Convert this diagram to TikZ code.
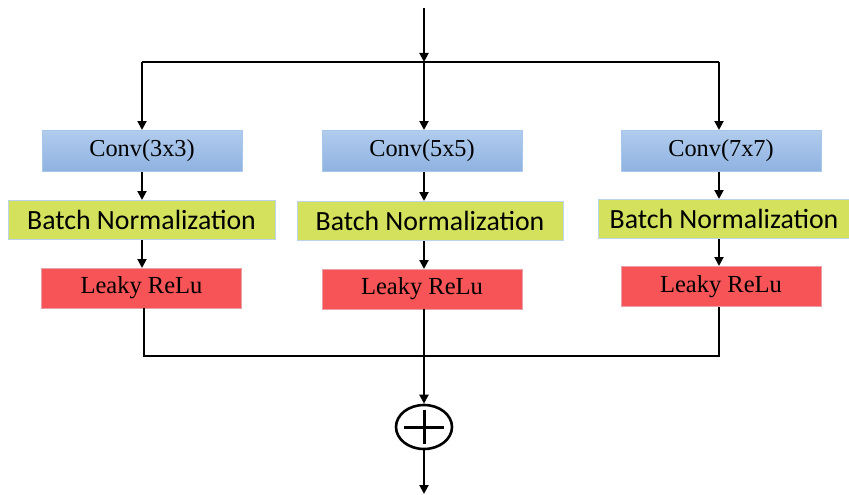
\documentclass[tikz,border=0pt]{standalone}
\usepackage{fontspec}
\setmainfont{Liberation Serif}
\newfontfamily\bnfont{Carlito}
\usetikzlibrary{arrows.meta,shapes.geometric}
\definecolor{convtop}{HTML}{B0CCEE}
\definecolor{convbot}{HTML}{8FB2E0}
\definecolor{convedge}{HTML}{A8C6EC}
\definecolor{bnfill}{HTML}{D3E15C}
\definecolor{bnedge}{HTML}{BCD3EC}
\definecolor{relufill}{HTML}{F65457}
\definecolor{reluedge}{HTML}{E8A0A8}
\tikzset{
  x=1pt, y=-1pt,
  convbox/.style={rectangle, top color=convtop, bottom color=convbot, draw=convedge,
    line width=1pt, minimum width=200pt, minimum height=41pt, inner sep=0pt,
    font=\fontsize{24.3}{26}\selectfont},
  bnbox/.style={rectangle, fill=bnfill, draw=bnedge, line width=1pt,
    minimum height=39pt, inner sep=0pt, font=\bnfont\fontsize{27.8}{30}\selectfont},
  relubox/.style={rectangle, fill=relufill, draw=reluedge, line width=0.8pt,
    minimum width=200pt, minimum height=40pt, inner sep=0pt,
    font=\fontsize{24.5}{26}\selectfont},
  wire/.style={line width=2pt, black},
  flow/.style={wire, -{Triangle[length=9pt,width=9pt]}},
  sumnode/.style={ellipse, draw, line width=2.6pt, minimum width=56pt, minimum height=44pt, inner sep=0pt}
}
\begin{document}
\begin{tikzpicture}
\useasboundingbox (0,0) rectangle (849,495);

% input and split
\coordinate (in) at (424,8);
\coordinate (split) at (424,62);
\coordinate (sl) at (142,62);
\coordinate (sr) at (719,62);

% left branch
\node[convbox] (c1) at (142,151) {Conv(3x3)};
\node[bnbox, minimum width=267pt] (b1) at (141.5,219.5) {Batch Normalization};
\node[relubox] (r1) at (141.5,288) {Leaky ReLu};

% middle branch
\node[convbox] (c2) at (422,151) {Conv(5x5)};
\node[bnbox, minimum width=266pt] (b2) at (430,221) {Batch Normalization};
\node[relubox] (r2) at (422,289) {Leaky ReLu};

% right branch
\node[convbox] (c3) at (721,151) {Conv(7x7)};
\node[bnbox, minimum width=252pt] (b3) at (724,219) {Batch Normalization};
\node[relubox] (r3) at (721,286.5) {Leaky ReLu};

% merge and sum
\coordinate (ml) at (144,356);
\coordinate (mr) at (719,356);
\node[sumnode] (sum) at (424,427) {};
\draw[line width=3pt] ([xshift=-20pt]sum.center) -- ([xshift=20pt]sum.center);
\draw[line width=3pt] ([yshift=-17pt]sum.center) -- ([yshift=17pt]sum.center);
\coordinate (out) at (424,494);

% wiring
\draw[flow] (in) -- (split);
\draw[wire] (sl) -- (sr);
\draw[flow] (sl) -- (sl |- c1.north);
\draw[flow] (split) -- (split |- c2.north);
\draw[flow] (sr) -- (sr |- c3.north);

\draw[flow] (142,171.5) -- (142,200);
\draw[flow] (142,239.5) -- (142,268);
\draw[flow] (424,171.5) -- (424,201);
\draw[flow] (424,241) -- (424,269);
\draw[flow] (719,171.5) -- (719,199);
\draw[flow] (719,239) -- (719,266);

\draw[wire] (144,308) -- (ml) -- (mr) -- (719,307);
\draw[flow] (424,309) -- (sum.north);
\draw[flow] (sum.south) -- (out);
\end{tikzpicture}
\end{document}
